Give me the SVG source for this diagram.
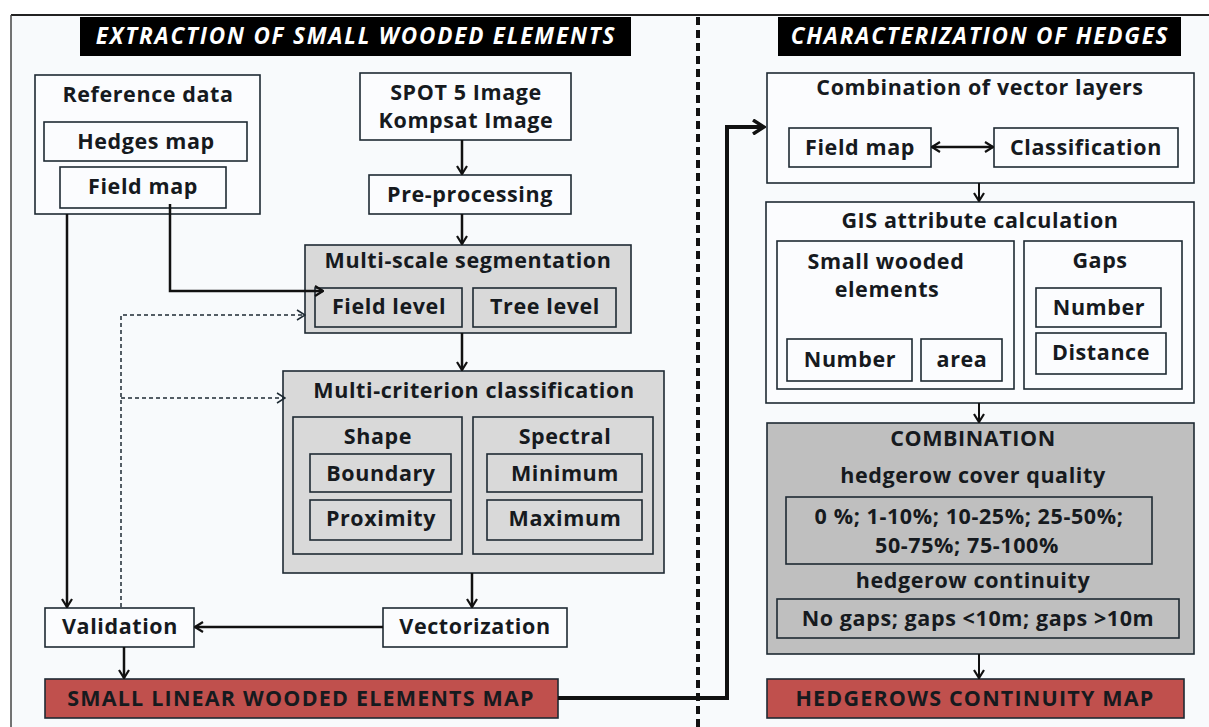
<svg xmlns="http://www.w3.org/2000/svg" width="1209" height="727" viewBox="0 0 1209 727">
<defs>
<style>
.bx{fill:#fbfcfe;stroke:#1e2a33;stroke-width:1.6}
.g1{fill:#d9d9d9;stroke:#1e2a33;stroke-width:1.6}
.g2{fill:#bfbfbf;stroke:#1e2a33;stroke-width:1.6}
.rd{fill:#c0504d;stroke:#1e2a33;stroke-width:1.6}
.hd{fill:#000}
text{font-family:"Open Sans","Liberation Sans",sans-serif;font-weight:700;font-size:21.5px;letter-spacing:0.6px;fill:#161a1e;text-anchor:middle}
.ht{font-style:italic;font-weight:700;fill:#fff;font-size:22.5px;letter-spacing:1.8px}
.rt{letter-spacing:1.2px}
.cn{fill:none;stroke:#111;stroke-width:2.5}
.ck{fill:none;stroke:#111;stroke-width:4}
.th{fill:none;stroke:#111;stroke-width:2}
.ds{fill:none;stroke:#1e2a33;stroke-width:1.5;stroke-dasharray:4 3}
</style>
<marker id="ah" viewBox="0 0 10 12" refX="9" refY="6" markerWidth="10" markerHeight="12" markerUnits="userSpaceOnUse" orient="auto-start-reverse">
<path d="M1,1 L9,6 L1,11" fill="none" stroke="#111" stroke-width="2.2"/>
</marker>
<marker id="ahb" viewBox="0 0 14 16" refX="12" refY="8" markerWidth="14" markerHeight="16" markerUnits="userSpaceOnUse" orient="auto">
<path d="M1,1 L12,8 L1,15" fill="none" stroke="#111" stroke-width="3.5"/>
</marker>
<marker id="ahd" viewBox="0 0 10 12" refX="9" refY="6" markerWidth="10" markerHeight="12" markerUnits="userSpaceOnUse" orient="auto">
<path d="M1,1 L9,6 L1,11" fill="none" stroke="#1e2a33" stroke-width="1.5"/>
</marker>
</defs>
<rect x="0" y="0" width="1209" height="727" fill="#ffffff"/>
<rect x="11" y="15" width="1198" height="712" fill="#f8fafc"/>
<line x1="11" y1="15" x2="1209" y2="15" stroke="#222" stroke-width="2"/>
<line x1="11" y1="15" x2="11" y2="727" stroke="#444" stroke-width="1.5"/>
<line x1="698" y1="17" x2="698" y2="727" stroke="#111" stroke-width="4" stroke-dasharray="8 5"/>

<g id="header-extraction"><rect class="hd" x="80" y="17" width="551" height="39"/><text class="ht" x="356" y="44">EXTRACTION OF SMALL WOODED ELEMENTS</text></g>
<g id="header-characterization"><rect class="hd" x="778" y="17" width="403" height="39"/><text class="ht" x="980" y="44">CHARACTERIZATION OF HEDGES</text></g>

<g id="reference-data"><rect class="bx" x="35" y="75" width="225" height="139"/><text x="148" y="102">Reference data</text></g>
<g id="hedges-map"><rect class="bx" x="44" y="122" width="203" height="39"/><text x="146" y="149">Hedges map</text></g>
<g id="field-map"><rect class="bx" x="60" y="167" width="166" height="41"/><text x="143" y="194">Field map</text></g>

<g id="spot-image"><rect class="bx" x="360" y="73" width="211" height="67"/><text x="466" y="100">SPOT 5 Image</text><text x="466" y="128">Kompsat Image</text></g>
<g id="pre-processing"><rect class="bx" x="369" y="175" width="202" height="39"/><text x="470" y="202">Pre-processing</text></g>

<g id="segmentation"><rect class="g1" x="305" y="245" width="326" height="88"/><text x="468" y="268">Multi-scale segmentation</text></g>
<g id="field-level"><rect class="g1" x="315" y="288" width="147" height="39"/><text x="389" y="314">Field level</text></g>
<g id="tree-level"><rect class="g1" x="473" y="288" width="143" height="39"/><text x="545" y="314">Tree level</text></g>

<g id="classification"><rect class="g1" x="283" y="371" width="381" height="202"/><text x="474" y="398">Multi-criterion classification</text></g>
<g id="shape"><rect class="g1" x="293" y="417" width="169" height="137"/><text x="378" y="444">Shape</text></g>
<g id="boundary"><rect class="g1" x="310" y="454" width="141" height="38"/><text x="381" y="481">Boundary</text></g>
<g id="proximity"><rect class="g1" x="310" y="500" width="141" height="40"/><text x="381" y="526">Proximity</text></g>
<g id="spectral"><rect class="g1" x="473" y="417" width="180" height="137"/><text x="565" y="444">Spectral</text></g>
<g id="minimum"><rect class="g1" x="487" y="454" width="155" height="38"/><text x="565" y="481">Minimum</text></g>
<g id="maximum"><rect class="g1" x="487" y="500" width="155" height="40"/><text x="565" y="526">Maximum</text></g>

<g id="vectorization"><rect class="bx" x="383" y="608" width="184" height="39"/><text x="475" y="634">Vectorization</text></g>
<g id="validation"><rect class="bx" x="45" y="608" width="149" height="39"/><text x="120" y="634">Validation</text></g>
<g id="small-linear-map"><rect class="rd" x="45" y="679" width="513" height="39"/><text class="rt" x="301" y="706">SMALL LINEAR WOODED ELEMENTS MAP</text></g>

<g id="vector-layers"><rect class="bx" x="767" y="73" width="427" height="110"/><text x="980" y="95">Combination of vector layers</text></g>
<g id="field-map-2"><rect class="bx" x="789" y="128" width="142" height="39"/><text x="860" y="155">Field map</text></g>
<g id="classification-2"><rect class="bx" x="994" y="128" width="184" height="39"/><text x="1086" y="155">Classification</text></g>

<g id="gis-attribute"><rect class="bx" x="766" y="202" width="428" height="201"/><text x="980" y="228">GIS attribute calculation</text></g>
<g id="small-wooded"><rect class="bx" x="777" y="241" width="237" height="148"/><text x="886" y="269">Small wooded</text><text x="887" y="297">elements</text></g>
<g id="swe-number"><rect class="bx" x="787" y="339" width="125" height="42"/><text x="850" y="367">Number</text></g>
<g id="swe-area"><rect class="bx" x="921" y="339" width="81" height="42"/><text x="962" y="367">area</text></g>
<g id="gaps"><rect class="bx" x="1024" y="241" width="158" height="148"/><text x="1100" y="268">Gaps</text></g>
<g id="gaps-number"><rect class="bx" x="1036" y="288" width="125" height="39"/><text x="1099" y="315">Number</text></g>
<g id="gaps-distance"><rect class="bx" x="1036" y="333" width="130" height="41"/><text x="1101" y="360">Distance</text></g>

<g id="combination"><rect class="g2" x="767" y="423" width="427" height="231"/><text x="973" y="446">COMBINATION</text><text x="973" y="483">hedgerow cover quality</text><text x="973" y="588">hedgerow continuity</text></g>
<g id="cover-quality"><rect class="g2" x="786" y="497" width="366" height="67"/><text x="969" y="524">0 %; 1-10%; 10-25%; 25-50%;</text><text x="967" y="553">50-75%; 75-100%</text></g>
<g id="continuity"><rect class="g2" x="777" y="599" width="402" height="39"/><text x="978" y="626">No gaps; gaps &lt;10m; gaps &gt;10m</text></g>
<g id="hedgerows-map"><rect class="rd" x="767" y="679" width="417" height="39"/><text class="rt" x="975" y="706">HEDGEROWS CONTINUITY MAP</text></g>

<g id="connectors">
<path class="cn" d="M462,140 V174" marker-end="url(#ah)"/>
<path class="cn" d="M462,214 V244" marker-end="url(#ah)"/>
<path class="cn" d="M462,333 V370" marker-end="url(#ah)"/>
<path class="cn" d="M472,573 V607" marker-end="url(#ah)"/>
<path class="cn" d="M383,627 H195" marker-end="url(#ah)"/>
<path class="cn" d="M67,214 V607" marker-end="url(#ah)"/>
<path class="cn" d="M124,647 V678" marker-end="url(#ah)"/>
<path class="cn" d="M170,204 V291 H323" marker-end="url(#ah)"/>
<path class="ds" d="M121,607 V315 H305" marker-end="url(#ahd)"/>
<path class="ds" d="M121,398 H285" marker-end="url(#ahd)"/>
<path class="ck" d="M558,698 H727 V127 H764" marker-end="url(#ahb)"/>
<path class="cn" d="M932,147 H993" marker-start="url(#ah)" marker-end="url(#ah)"/>
<path class="th" d="M979,183 V201" marker-end="url(#ah)"/>
<path class="th" d="M979,403 V422" marker-end="url(#ah)"/>
<path class="th" d="M979,654 V678" marker-end="url(#ah)"/>
</g>
</svg>
